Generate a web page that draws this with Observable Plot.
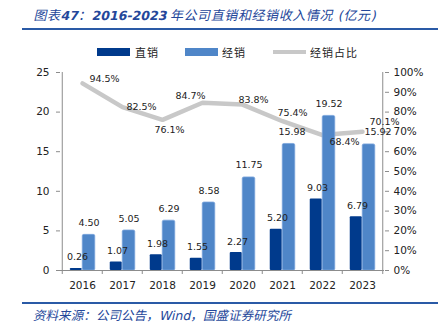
<!DOCTYPE html>
<html><head><meta charset="utf-8">
<script src="https://cdn.jsdelivr.net/npm/d3@7"></script>
<script src="https://cdn.jsdelivr.net/npm/@observablehq/plot@0.6"></script>
<style>
body{margin:0;background:#fff;}
#wrap{position:relative;width:447px;height:323px;overflow:hidden;font-family:"DejaVu Sans","Noto Sans CJK SC",sans-serif;}
.abs{position:absolute;white-space:nowrap;}
.sk{transform:skewX(-13deg);transform-origin:0 100%;}
#title{left:32px;top:5px;font-family:"Noto Sans CJK SC",sans-serif;font-size:13px;color:#24479a;line-height:20px;letter-spacing:0.6px;}
#title b{font-family:"DejaVu Sans",sans-serif;font-weight:bold;font-size:12.5px;letter-spacing:0;}
.rule{left:22px;width:416px;height:2px;background:#2a5aa6;}
.sw{height:8px;top:48px;width:33px;}
.lt{top:44px;font-family:"Noto Sans CJK SC",sans-serif;font-size:11px;line-height:16px;color:#222;letter-spacing:1px;}
#src{left:32px;top:307px;font-family:"Noto Sans CJK SC",sans-serif;font-size:12.5px;color:#24479a;line-height:16px;letter-spacing:0.1px;}
#chart{left:0;top:61px;}
</style></head><body>
<div id="wrap">
  <div id="title" class="abs sk">图表<b>47</b>：<b>2016-2023</b> 年公司直销和经销收入情况<span style="font-family:'DejaVu Sans'"> (</span>亿元<span style="font-family:'DejaVu Sans'">)</span></div>
  <div class="abs rule" style="top:28px"></div>
  <div class="abs sw" style="left:97px;background:#003a8c"></div>
  <div class="abs lt" style="left:135px">直销</div>
  <div class="abs sw" style="left:185px;background:#4f86c8"></div>
  <div class="abs lt" style="left:222px">经销</div>
  <div class="abs sw" style="left:273px;top:50px;height:4px;background:#c8c8c8"></div>
  <div class="abs lt" style="left:310px">经销占比</div>
  <div id="chart" class="abs"></div>
  <div class="abs rule" style="top:302px"></div>
  <div id="src" class="abs sk">资料来源：公司公告，<span style="font-family:'DejaVu Sans';letter-spacing:0">Wind</span>，国盛证券研究所</div>
</div>
<script>
const years = ["2016","2017","2018","2019","2020","2021","2022","2023"];
const direct = [0.26,1.07,1.98,1.55,2.27,5.20,9.03,6.79];
const distrib = [4.50,5.05,6.29,8.58,11.75,15.98,19.52,15.92];
const share = [94.5,82.5,76.1,84.7,83.8,75.4,68.4,70.1];
const leftTicks = [0,5,10,15,20,25];
const rightTicks = [0,10,20,30,40,50,60,70,80,90,100];
// label placement nudges (layout only)
const shareNudge = [[22,-4],[19,0],[7,10],[-12,-7],[11,-5],[10,-8],[22,7],[22,-10]];
const distribNudge = [0,0,0,0,0,3,0,9];

const Ymax = 25;
const toY = p => p / 100 * Ymax;
const rows = years.map((y,i) => ({year:y, direct:direct[i], distrib:distrib[i], share:share[i]}));
const half = (447 - 60 - 63) / years.length / 2;
const grey = "#8c8c8c";

const chart = Plot.plot({
  width: 447, height: 234,
  marginLeft: 60, marginRight: 63, marginTop: 11, marginBottom: 25,
  style: {fontFamily: "DejaVu Sans", fontSize: "10.5px", color: "#222", background: "transparent"},
  x: {type: "band", domain: years, padding: 0},
  y: {domain: [0, Ymax]},
  marks: [
    Plot.line(rows, {x: "year", y: d => toY(d.share), stroke: "#c8c8c8", strokeWidth: 4.5}),
    Plot.barY(rows, {x: "year", y: "direct", fill: "#003a8c", insetLeft: 7.75, insetRight: half, rx: 1}),
    Plot.barY(rows, {x: "year", y: "distrib", fill: "#4f86c8", stroke: "#79a3dc", strokeWidth: 0.8, insetLeft: half, insetRight: 7.25, rx: 1.5}),
    Plot.ruleY([0], {stroke: grey}),
    Plot.ruleX([years[0]], {dx: -half, stroke: grey}),
    Plot.ruleX([years[years.length-1]], {dx: half, stroke: grey}),
    Plot.ruleX(years, {dx: -half, y1: 0, y2: 0, insetBottom: -4, stroke: grey}),
    Plot.ruleX([years[years.length-1]], {dx: half, y1: 0, y2: 0, insetBottom: -4, stroke: grey}),
    Plot.axisY({anchor: "left", ticks: leftTicks, tickSize: 4, tickPadding: 7, stroke: grey, fill: "#222", label: null, fontSize: 10.5}),
    Plot.axisY({anchor: "right", ticks: rightTicks.map(toY), tickSize: 4, tickPadding: 5, stroke: grey, fill: "#222", label: null, fontSize: 10.5,
      tickFormat: d => Math.round(d / Ymax * 100) + "%"}),
    Plot.axisX({tickSize: 0, tickPadding: 11, label: null, fill: "#222", fontSize: 10.5}),
    Plot.text(rows, {x: "year", y: "direct", text: d => d.direct.toFixed(2), dx: -5, dy: -11, fontSize: 9.5, fill: "#222"}),
    ...rows.map((r, i) => Plot.text([r], {x: "year", y: "distrib", text: d => d.distrib.toFixed(2),
      dx: 6.5 + distribNudge[i], dy: -12, fontSize: 9.5, fill: "#222"})),
    ...rows.map((r, i) => Plot.text([r], {x: "year", y: d => toY(d.share), text: d => d.share.toFixed(1) + "%",
      dx: shareNudge[i][0], dy: shareNudge[i][1], fontSize: 9.5, fill: "#222"}))
  ]
});
document.getElementById("chart").appendChild(chart);
</script>
</body></html>
